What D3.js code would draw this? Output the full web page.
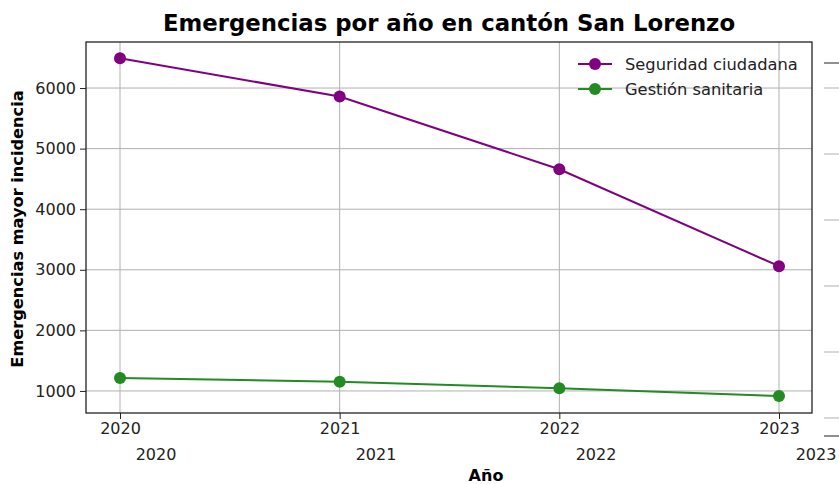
<!DOCTYPE html>
<html><head><meta charset="utf-8">
<script src="https://cdn.jsdelivr.net/npm/d3@7"></script>
<style>body{margin:0;background:#fff;}svg{display:block;font-family:"DejaVu Sans",sans-serif;}</style>
</head><body><svg id="c" width="839" height="484"></svg>
<script>
const years = [2020, 2021, 2022, 2023];
const seguridad = [6490, 5860, 4660, 3060];
const gestion = [1215, 1150, 1045, 915];
const seriesNames = ["Seguridad ciudadana", "Gestión sanitaria"];
const seriesColors = ["#800080", "#228b22"];
const yTicks = [1000, 2000, 3000, 4000, 5000, 6000];
const ghostTicks = [0, 1, 2, 3, 4, 5];

const svg = d3.select("#c");
const m = {l: 86, r: 812, t: 42, b: 413};

// ghost (background) axes, offset
const g2 = {l: 824, r: 870, t: 63, b: 436};
const gy = d3.scaleLinear().domain([-0.273, 5.379]).range([g2.b, g2.t]);
const gx = d3.scalePoint().domain(years).range([156, 816]);
const ghost = svg.append("g");
ghost.selectAll("line.gg").data(ghostTicks).join("line")
  .attr("x1", g2.l).attr("x2", g2.r).attr("y1", d => gy(d)).attr("y2", d => gy(d))
  .attr("stroke", "#b0b0b0").attr("stroke-width", 1);
ghost.selectAll("line.gs").data([g2.t, g2.b]).join("line")
  .attr("x1", g2.l).attr("x2", g2.r).attr("y1", d => d).attr("y2", d => d)
  .attr("stroke", "#222").attr("stroke-width", 1.2);
ghost.selectAll("text").data(years).join("text")
  .attr("x", d => gx(d)).attr("y", 460).attr("text-anchor", "middle")
  .attr("font-size", 16).attr("fill", "#222").text(d => d);

const x = d3.scalePoint().domain(years).range([120, 779]);
const y = d3.scaleLinear().domain([636, 6760]).range([m.b, m.t]);

svg.append("rect").attr("x", m.l).attr("y", m.t).attr("width", m.r - m.l).attr("height", m.b - m.t).attr("fill", "#fff");

// grid
svg.append("g").selectAll("line").data(yTicks).join("line")
  .attr("x1", m.l).attr("x2", m.r).attr("y1", d => y(d)).attr("y2", d => y(d))
  .attr("stroke", "#b0b0b0").attr("stroke-width", 1);
svg.append("g").selectAll("line").data(years).join("line")
  .attr("y1", m.t).attr("y2", m.b).attr("x1", d => x(d)).attr("x2", d => x(d))
  .attr("stroke", "#b0b0b0").attr("stroke-width", 1);

// axes
const ax = svg.append("g").attr("transform", `translate(0,${m.b})`)
  .call(d3.axisBottom(x).tickSize(6).tickPadding(4).tickFormat(d3.format("d")));
const ay = svg.append("g").attr("transform", `translate(${m.l},0)`)
  .call(d3.axisLeft(y).tickValues(yTicks).tickSize(6).tickPadding(4).tickFormat(d3.format("d")));
[ax, ay].forEach(a => {
  a.select(".domain").remove();
  a.selectAll("text").attr("font-size", 16).attr("fill", "#222").attr("font-family", "DejaVu Sans");
  a.selectAll("line").attr("stroke", "#222");
});

svg.append("rect").attr("x", m.l).attr("y", m.t).attr("width", m.r - m.l).attr("height", m.b - m.t)
  .attr("fill", "none").attr("stroke", "#222").attr("stroke-width", 1.3);

const series = [seguridad, gestion];
const line = d3.line().x((d, i) => x(years[i])).y(d => y(d));
series.forEach((s, k) => {
  svg.append("path").datum(s).attr("d", line).attr("fill", "none")
    .attr("stroke", seriesColors[k]).attr("stroke-width", 2);
  svg.append("g").selectAll("circle").data(s).join("circle")
    .attr("cx", (d, i) => x(years[i])).attr("cy", d => y(d)).attr("r", 6)
    .attr("fill", seriesColors[k]);
});

// legend
const lg = svg.append("g");
seriesNames.forEach((n, k) => {
  const yy = 64 + k * 25;
  lg.append("line").attr("x1", 578).attr("x2", 612).attr("y1", yy).attr("y2", yy)
    .attr("stroke", seriesColors[k]).attr("stroke-width", 2);
  lg.append("circle").attr("cx", 595).attr("cy", yy).attr("r", 6).attr("fill", seriesColors[k]);
  lg.append("text").attr("x", 625).attr("y", yy + 6).attr("font-size", 16.3).attr("fill", "#222").text(n);
});

svg.append("text").attr("x", 449).attr("y", 31).attr("text-anchor", "middle")
  .attr("font-size", 22.8).attr("font-weight", "bold").attr("fill", "#000")
  .text("Emergencias por año en cantón San Lorenzo");
svg.append("text").attr("x", 486).attr("y", 481).attr("text-anchor", "middle")
  .attr("font-size", 16).attr("font-weight", "bold").attr("fill", "#000").text("Año");
svg.append("text").attr("transform", "translate(23,229) rotate(-90)").attr("text-anchor", "middle")
  .attr("font-size", 16.2).attr("font-weight", "bold").attr("fill", "#000").text("Emergencias mayor incidencia");
</script></body></html>
